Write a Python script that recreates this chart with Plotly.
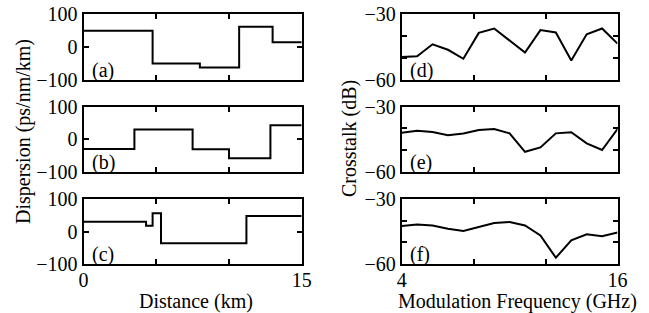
import plotly.graph_objects as go

# ---- data ----
# Dispersion maps (step functions): segment start positions (km) + end, values (ps/nm/km)
dist_a = [0, 4.75, 8.0, 10.7, 13.0, 15]
disp_a = [50, -50, -62, 62, 15, 15]
dist_b = [0, 3.5, 7.5, 10.0, 12.85, 15]
disp_b = [-30, 30, -31, -59, 43, 43]
dist_c = [0, 4.3, 4.75, 5.33, 11.2, 15]
disp_c = [30, 18, 56, -36, 48, 48]

freq = [4, 4.857, 5.714, 6.571, 7.429, 8.286, 9.143, 10.0, 10.857, 11.714,
        12.571, 13.429, 14.286, 15.143, 16]
xt_d = [-49.5, -49.2, -43.7, -46.2, -50.3, -38.5, -36.5, -42.0, -47.5, -37.2,
        -38.3, -51.1, -39.1, -36.5, -43.4]
xt_e = [-42.0, -41.1, -41.7, -43.2, -42.4, -40.8, -40.3, -42.3, -50.8, -48.8,
        -42.3, -41.8, -46.9, -50.0, -40.3]
xt_f = [-42.5, -41.8, -42.2, -43.7, -44.8, -42.9, -41.1, -40.6, -42.2, -46.8,
        -57.1, -49.1, -46.3, -47.2, -45.5]

panel_labels = ["(a)", "(b)", "(c)", "(d)", "(e)", "(f)"]
dist_ticks = [0, 5, 10, 15]
dist_ticktext = ["0", "", "", "15"]
disp_ticks = [-100, 0, 100]
disp_ticktext = ["\u2212100", "0", "100"]
freq_ticks = [4, 8, 12, 16]
freq_ticktext = ["4", "", "", "16"]
xt_ticks = [-60, -50, -40, -30]
xt_ticktext = ["\u221260", "", "", "\u221230"]

W, H = 649, 313
FONT = "Liberation Serif"
FS = 20

def px_x(p):
    return p / W

def px_y(p):
    return 1 - p / H

left_dom = [px_x(83.5), px_x(301.7)]
right_dom = [px_x(401.7), px_x(617.5)]
row_doms = [[px_y(80), px_y(14.3)], [px_y(171.7), px_y(106.7)], [px_y(264), px_y(199)]]

fig = go.Figure()
left_data = [(dist_a, disp_a), (dist_b, disp_b), (dist_c, disp_c)]
right_data = [xt_d, xt_e, xt_f]

axis_common = dict(showline=True, linewidth=2, linecolor="black", mirror="ticks",
                   ticks="inside", ticklen=5, tickwidth=2, tickcolor="black",
                   showgrid=False, zeroline=False, automargin=False,
                   tickfont=dict(family=FONT, size=FS, color="black"))

layout = {}
idx = 1
for r in range(3):
    # left panel
    xs, ys = left_data[r]
    sfx = "" if idx == 1 else str(idx)
    fig.add_trace(go.Scatter(x=xs, y=ys, mode="lines", line=dict(color="black", width=2, shape="hv"),
                             xaxis="x" + sfx, yaxis="y" + sfx, showlegend=False, hoverinfo="skip"))
    layout["xaxis" + sfx] = dict(axis_common, domain=left_dom, range=[0, 15], anchor="y" + sfx,
                                 tickvals=dist_ticks, ticktext=dist_ticktext,
                                 showticklabels=(r == 2), ticklabelstandoff=-3)
    layout["yaxis" + sfx] = dict(axis_common, domain=row_doms[r], range=[-100, 100], anchor="x" + sfx,
                                 tickvals=disp_ticks, ticktext=disp_ticktext)
    fig.add_annotation(text=panel_labels[r], xref="x" + sfx + " domain", yref="y" + sfx + " domain",
                       x=0.03, y=-0.06, xanchor="left", yanchor="bottom", showarrow=False,
                       font=dict(family=FONT, size=FS, color="black"))
    idx += 1
    # right panel
    sfx = str(idx)
    fig.add_trace(go.Scatter(x=freq, y=right_data[r], mode="lines", line=dict(color="black", width=2),
                             xaxis="x" + sfx, yaxis="y" + sfx, showlegend=False, hoverinfo="skip"))
    layout["xaxis" + sfx] = dict(axis_common, domain=right_dom, range=[4, 16], anchor="y" + sfx,
                                 tickvals=freq_ticks, ticktext=freq_ticktext,
                                 showticklabels=(r == 2), ticklabelstandoff=-3)
    layout["yaxis" + sfx] = dict(axis_common, domain=row_doms[r], range=[-60, -30], anchor="x" + sfx,
                                 tickvals=xt_ticks, ticktext=xt_ticktext)
    fig.add_annotation(text=panel_labels[3 + r], xref="x" + sfx + " domain", yref="y" + sfx + " domain",
                       x=0.03, y=-0.06, xanchor="left", yanchor="bottom", showarrow=False,
                       font=dict(family=FONT, size=FS, color="black"))
    idx += 1

fig.update_layout(**layout)

titles = [
    ("Dispersion (ps/nm/km)", 24, 132, -90),
    ("Crosstalk (dB)", 349, 139, -90),
    ("Distance (km)", 196, 301.5, 0),
    ("Modulation Frequency (GHz)", 517.5, 301.5, 0),
]
for t, x, y, ang in titles:
    fig.add_annotation(text=t, xref="paper", yref="paper", x=px_x(x), y=px_y(y),
                       xanchor="center", yanchor="middle", textangle=ang, showarrow=False,
                       font=dict(family=FONT, size=FS, color="black"))

fig.update_layout(width=W, height=H, margin=dict(l=0, r=0, t=0, b=0, autoexpand=False),
                  paper_bgcolor="white", plot_bgcolor="white",
                  font=dict(family=FONT, size=FS, color="black"))

fig.write_html("out.html", config={"displayModeBar": False, "staticPlot": True},
               post_script="document.body.style.margin='0';document.body.style.overflow='hidden';")
